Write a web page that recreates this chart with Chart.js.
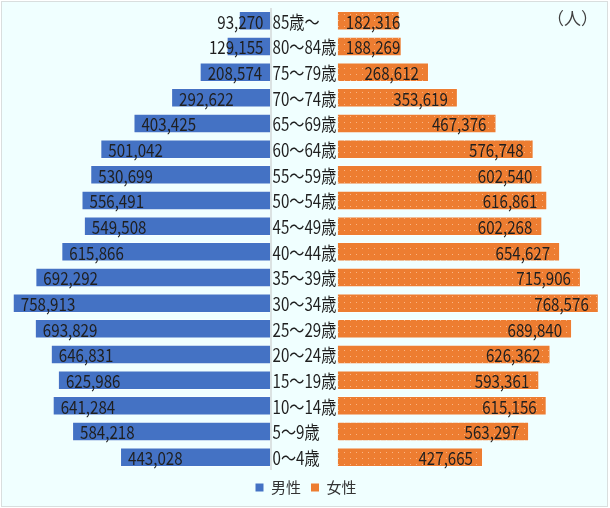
<!DOCTYPE html>
<html><head><meta charset="utf-8">
<script src="https://cdn.jsdelivr.net/npm/chart.js@4.4.1/dist/chart.umd.min.js"></script>
<style>html,body{margin:0;padding:0;background:#fff;}#wrap{width:610px;height:508px;position:relative;}</style>
</head><body><div id="wrap"><canvas id="c"></canvas></div>
<script>
const categories = ['85歳～','80～84歳','75～79歳','70～74歳','65～69歳','60～64歳','55～59歳','50～54歳','45～49歳','40～44歳','35～39歳','30～34歳','25～29歳','20～24歳','15～19歳','10～14歳','5～9歳','0～4歳'];
const male = [93270,129155,208574,292622,403425,501042,530699,556491,549508,615866,692292,758913,693829,646831,625986,641284,584218,443028];
const female = [182316,188269,268612,353619,467376,576748,602540,616861,602268,654627,715906,768576,689840,626362,593361,615156,563297,427665];
const seriesNames = ['男性','女性'];
const unitLabel = '（人）';

const FONT = '"Noto Sans CJK JP", "Noto Sans", sans-serif';
const SX = 0.84;
const BLUE = '#4472C4', ORANGE = '#ED7D31', TEXT = '#1f1f1f';

function makePattern(){
  const c = document.createElement('canvas'); c.width = 6; c.height = 6;
  const g = c.getContext('2d');
  g.fillStyle = ORANGE; g.fillRect(0,0,6,6);
  g.fillStyle = 'rgba(255,200,160,0.75)'; g.fillRect(2,2,1,1);
  return g.createPattern(c,'repeat');
}

function drawText(ctx, str, x, y, align){
  ctx.save(); ctx.translate(x, y); ctx.scale(SX, 1);
  ctx.textAlign = align; ctx.textBaseline = 'middle';
  ctx.fillText(str, 0, 0); ctx.restore();
}

const pyramidPlugin = {
  id: 'pyramid',
  beforeDraw(chart){
    const ctx = chart.ctx;
    ctx.save();
    ctx.fillStyle = '#ffffff'; ctx.fillRect(0,0,chart.width,chart.height);
    ctx.fillStyle = '#F0FFFF'; ctx.fillRect(1,1,606,505);
    ctx.strokeStyle = '#d9dede'; ctx.lineWidth = 1; ctx.strokeRect(1.5,1.5,606,505);
    ctx.restore();
  },
  afterDatasetsDraw(chart){
    const ctx = chart.ctx, area = chart.chartArea;
    const base = chart.scales.xM.getPixelForValue(0);
    ctx.save();
    ctx.strokeStyle = '#d4d8d8'; ctx.lineWidth = 1.5;
    ctx.beginPath(); ctx.moveTo(base + 0.5, area.top); ctx.lineTo(base + 0.5, area.bottom); ctx.stroke();
    ctx.font = '18px ' + FONT; ctx.fillStyle = TEXT;
    const mMeta = chart.getDatasetMeta(0), fMeta = chart.getDatasetMeta(1);
    mMeta.data.forEach((el, i) => {
      const s = male[i].toLocaleString('en-US');
      const w = ctx.measureText(s).width * SX;
      const right = Math.min(el.x + 8 + w, el.base - 7);
      drawText(ctx, s, right, el.y + 1, 'right');
      drawText(ctx, categories[i], el.base + 2, el.y + 1, 'left');
    });
    fMeta.data.forEach((el, i) => {
      const s = female[i].toLocaleString('en-US');
      const w = ctx.measureText(s).width * SX;
      const left = Math.max(el.x - 10 - w, el.base + 8);
      drawText(ctx, s, left, el.y + 1, 'left');
    });
    ctx.font = '17px ' + FONT; ctx.fillStyle = '#404040';
    ctx.textAlign = 'right'; ctx.textBaseline = 'middle';
    ctx.fillText(unitLabel, 598, 19);
    ctx.restore();
  }
};

const solid = [BLUE, ORANGE];
new Chart(document.getElementById('c'), {
  type: 'bar',
  data: {
    labels: categories,
    datasets: [
      { label: seriesNames[0], data: male, xAxisID: 'xM', backgroundColor: BLUE, borderColor: 'rgba(255,255,255,0.45)', borderWidth: 1 },
      { label: seriesNames[1], data: female, xAxisID: 'xF', backgroundColor: makePattern(), borderColor: 'rgba(255,255,255,0.45)', borderWidth: 1 }
    ]
  },
  options: {
    indexAxis: 'y',
    responsive: true, maintainAspectRatio: false, animation: false,
    layout: { padding: { left: 10, right: 8, top: 8, bottom: 3 } },
    datasets: { bar: { categoryPercentage: 1, barPercentage: 0.76, grouped: false } },
    scales: {
      y: { type: 'category', display: false, grid: { display: false } },
      xM: { type: 'linear', position: 'bottom', reverse: true, min: 0, max: 767000, stack: 'x', stackWeight: 260.5, display: false },
      xF: { type: 'linear', position: 'bottom', min: -198000, max: 778000, stack: 'x', stackWeight: 331.5, display: false }
    },
    plugins: {
      tooltip: { enabled: false },
      legend: {
        position: 'bottom',
        labels: {
          boxWidth: 8, boxHeight: 8, padding: 10, color: '#333333',
          font: { size: 15, family: FONT },
          generateLabels: (chart) => Chart.defaults.plugins.legend.labels.generateLabels(chart)
            .map((l, i) => Object.assign(l, { fillStyle: solid[i], strokeStyle: solid[i], lineWidth: 0 }))
        }
      }
    }
  },
  plugins: [pyramidPlugin]
});
</script></body></html>
